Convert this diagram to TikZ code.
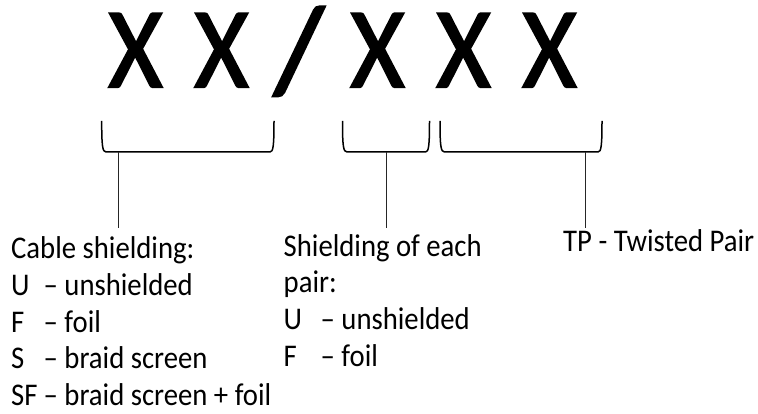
\documentclass[tikz,border=0pt]{standalone}
\usepackage{fontspec}
\usepackage{graphicx}
\setmainfont{Carlito}
\newfontfamily\bigfont{Carlito}[FakeBold=2]
\newcommand{\vst}[1]{\scalebox{1}[1.1]{#1}}
\begin{document}
\begin{tikzpicture}[x=1pt,y=-1pt,
  bigx/.style={anchor=base,inner sep=0pt,font=\bigfont\fontsize{104}{110}\selectfont},
  lbl/.style={anchor=base west,inner sep=0pt,font=\fontsize{28.7}{34}\selectfont},
  brace/.style={line width=1.5pt,black},
  stem/.style={line width=1pt,black!85}]
\path[use as bounding box,fill=white] (0,0) rectangle (758,414);
% big code
\node[bigx] (x1) at (135.5,87) {\vst{X}};
\node[bigx] (x2) at (221.5,87) {\vst{X}};
\node[bigx] (sl) at (299,91) {\scalebox{1.25}[1.17]{/}};
\node[bigx] (x3) at (377.5,87) {\vst{X}};
\node[bigx] (x4) at (463.5,87) {\vst{X}};
\node[bigx] (x5) at (549.5,87) {\vst{X}};
% brackets
\draw[brace] (101.7,121) .. controls (101.7,146) and (102.5,152) .. (106,152) -- (270,152) .. controls (273.2,152) and (274,146) .. (274,121);
\draw[brace] (342.5,121) .. controls (342.5,146) and (343.3,152) .. (347,152) -- (425.5,152) .. controls (428.7,152) and (429.5,146) .. (429.5,121);
\draw[brace] (440,121) .. controls (440,146) and (440.8,152) .. (444.5,152) -- (598,152) .. controls (601.2,152) and (602,146) .. (602,121);
% stems
\coordinate (s1) at (118,152);
\coordinate (e1) at (118,228);
\coordinate (s2) at (386,152);
\coordinate (e2) at (386,228);
\coordinate (s3) at (585,152);
\coordinate (e3) at (585,228);
\draw[stem] (s1) -- (e1);
\draw[stem] (s2) -- (e2);
\draw[stem] (s3) -- (e3);
% column 1
\node[lbl] (c1) at (11,258.5) {\vst{Cable shielding:}};
\node[lbl] (c1u) at (11,295.5) {\vst{U}};
\node[lbl] (c1ud) at (43.5,295.5) {\vst{– unshielded}};
\node[lbl] (c1f) at (11,332) {\vst{F}};
\node[lbl] (c1fd) at (43.5,332) {\vst{– foil}};
\node[lbl] (c1s) at (11,368.5) {\vst{S}};
\node[lbl] (c1sd) at (43.5,368.5) {\vst{– braid screen}};
\node[lbl] (c1sf) at (11,405) {\vst{SF}};
\node[lbl] (c1sfd) at (43.5,405) {\vst{– braid screen + foil}};
% column 2
\node[lbl] (c2) at (283.5,257) {\vst{Shielding of each}};
\node[lbl] (c2p) at (283.5,293) {\vst{pair:}};
\node[lbl] (c2u) at (283.5,329.5) {\vst{U}};
\node[lbl] (c2ud) at (320.5,329.5) {\vst{– unshielded}};
\node[lbl] (c2f) at (283.5,366) {\vst{F}};
\node[lbl] (c2fd) at (320.5,366) {\vst{– foil}};
% column 3
\node[lbl] (c3) at (563,252) {\vst{TP - Twisted Pair}};
\end{tikzpicture}
\end{document}
